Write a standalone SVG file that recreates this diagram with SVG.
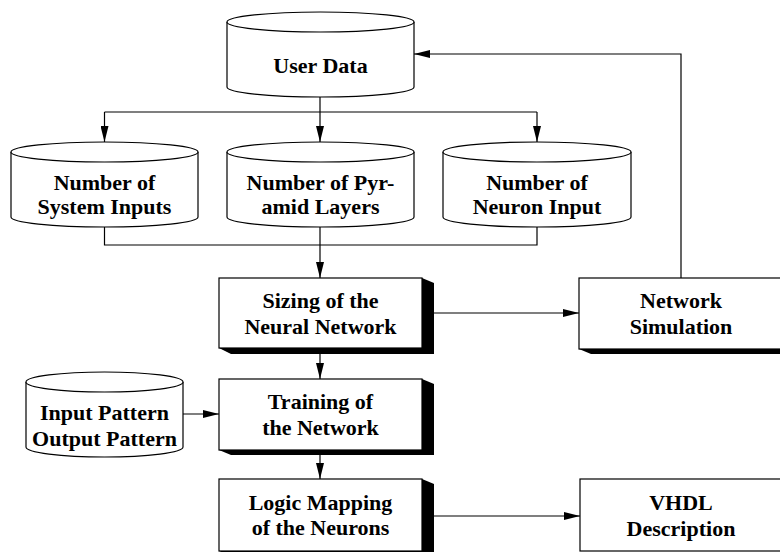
<svg xmlns="http://www.w3.org/2000/svg" width="780" height="552" viewBox="0 0 780 552">
<defs>
<style>
.shape{fill:#fff;stroke:#000;stroke-width:1.2}
.shadow{fill:#000;stroke:none}
.lbl{font-family:"Liberation Serif","Times New Roman",serif;font-weight:bold;font-size:22px;text-anchor:middle;fill:#000}
.conn{fill:none;stroke:#000;stroke-width:1.2}
</style>
<marker id="ah" viewBox="0 0 16 8" refX="16" refY="4" markerWidth="16" markerHeight="8" markerUnits="userSpaceOnUse" orient="auto">
<path d="M0,0 L16,4 L0,8 z" fill="#000"/>
</marker>
</defs>
<rect width="780" height="552" fill="#fff"/>

<g id="connectors">
<path class="conn" d="M320,97 V112"/>
<path class="conn" d="M104.5,112 H537"/>
<path class="conn" d="M104.5,112 V142" marker-end="url(#ah)"/>
<path class="conn" d="M320,112 V142" marker-end="url(#ah)"/>
<path class="conn" d="M537,112 V142" marker-end="url(#ah)"/>
<path class="conn" d="M104.5,227 V245 H537 V227"/>
<path class="conn" d="M320,227 V278" marker-end="url(#ah)"/>
<path class="conn" d="M434,313 H579" marker-end="url(#ah)"/>
<path class="conn" d="M681,278 V54 H414" marker-end="url(#ah)"/>
<path class="conn" d="M320,354 V379" marker-end="url(#ah)"/>
<path class="conn" d="M183,414 H219" marker-end="url(#ah)"/>
<path class="conn" d="M320,455 V479" marker-end="url(#ah)"/>
<path class="conn" d="M434,516 H580" marker-end="url(#ah)"/>
</g>

<g id="user-data">
<path class="shape" d="M227,22 V87 A93.5,10 0 0 0 414,87 V22"/>
<ellipse class="shape" cx="320.5" cy="22" rx="93.5" ry="10"/>
<text class="lbl" x="320.5" y="73">User Data</text>
</g>

<g id="system-inputs">
<path class="shape" d="M11,152 V217 A93.5,10 0 0 0 198,217 V152"/>
<ellipse class="shape" cx="104.5" cy="152" rx="93.5" ry="10"/>
<text class="lbl" x="104.5" y="190">Number of</text>
<text class="lbl" x="104.5" y="214">System Inputs</text>
</g>

<g id="pyramid-layers">
<path class="shape" d="M227,152 V217 A93.5,10 0 0 0 414,217 V152"/>
<ellipse class="shape" cx="320.5" cy="152" rx="93.5" ry="10"/>
<text class="lbl" x="320.5" y="190">Number of Pyr-</text>
<text class="lbl" x="320.5" y="214">amid Layers</text>
</g>

<g id="neuron-input">
<path class="shape" d="M443,152 V217 A94,10 0 0 0 631,217 V152"/>
<ellipse class="shape" cx="537" cy="152" rx="94" ry="10"/>
<text class="lbl" x="537" y="190">Number of</text>
<text class="lbl" x="537" y="214">Neuron Input</text>
</g>

<g id="sizing">
<polygon class="shadow" points="422,278 434,283 434,354 231,354 219,348"/>
<rect class="shape" x="219" y="278" width="203" height="70"/>
<text class="lbl" x="320.5" y="308">Sizing of the</text>
<text class="lbl" x="320.5" y="334">Neural Network</text>
</g>

<g id="network-simulation">
<polygon class="shadow" points="790,278 802,283 802,354 591,354 579,349"/>
<rect class="shape" x="579" y="278" width="211" height="71"/>
<text class="lbl" x="681" y="308">Network</text>
<text class="lbl" x="681" y="334">Simulation</text>
</g>

<g id="patterns">
<path class="shape" d="M26,382 V447 A78.5,10 0 0 0 183,447 V382"/>
<ellipse class="shape" cx="104.5" cy="382" rx="78.5" ry="10"/>
<text class="lbl" x="104.5" y="420">Input Pattern</text>
<text class="lbl" x="104.5" y="446">Output Pattern</text>
</g>

<g id="training">
<polygon class="shadow" points="422,379 434,384 434,455 231,455 219,450"/>
<rect class="shape" x="219" y="379" width="203" height="71"/>
<text class="lbl" x="320.5" y="409">Training of</text>
<text class="lbl" x="320.5" y="435">the Network</text>
</g>

<g id="logic-mapping">
<polygon class="shadow" points="422,479 434,484 434,556 231,556 219,551"/>
<rect class="shape" x="219" y="479" width="203" height="72"/>
<text class="lbl" x="320.5" y="510">Logic Mapping</text>
<text class="lbl" x="320.5" y="535">of the Neurons</text>
</g>

<g id="vhdl">
<rect class="shape" x="580" y="479" width="210" height="72"/>
<text class="lbl" x="681" y="510">VHDL</text>
<text class="lbl" x="681" y="536">Description</text>
</g>
</svg>
